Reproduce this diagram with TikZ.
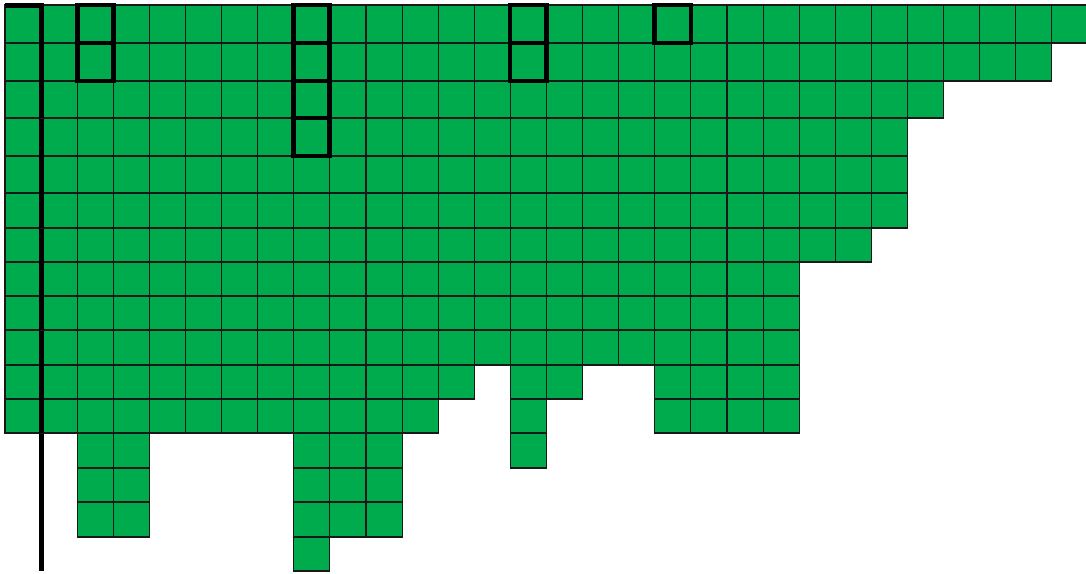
\documentclass[tikz,border=0pt]{standalone}
\definecolor{cellgreen}{RGB}{0,171,78}
\begin{document}
\begin{tikzpicture}[x=1pt,y=-1pt,
  cell/.style={fill=cellgreen, draw=black!90, line width=1.1pt},
  markline/.style={line width=4.8pt, draw=black}]
\useasboundingbox (0,0) rectangle (1086,573);
\def\cw{36.1}
\foreach \ya/\yb/\cols in {
  5/43/{0,...,29},
  43/81/{0,...,28},
  81/118/{0,...,25},
  118/156/{0,...,24},
  156/193/{0,...,24},
  193/228/{0,...,24},
  228/262/{0,...,23},
  262/296/{0,...,21},
  296/330/{0,...,21},
  330/365/{0,...,21},
  365/399/{0,1,2,3,4,5,6,7,8,9,10,11,12,14,15,18,19,20,21},
  399/433/{0,1,2,3,4,5,6,7,8,9,10,11,14,18,19,20,21},
  433/468/{2,3,8,9,10,14},
  468/502/{2,3,8,9,10},
  502/537/{2,3,8,9,10},
  537/571/{8}}
{
  \foreach \c in \cols {
    \draw[cell] ({5+\cw*\c},\ya) rectangle ({min(5+\cw*(\c+1),1086.5)},\yb);
  }
}
% left marker line
\draw[markline] (5,5.5) -- (43.5,5.5);
\draw[markline] (41.1,3.2) -- (41.1,117.5);
\draw[markline] (41.1,119) -- (41.1,227.5);
\draw[markline] (41.1,229) -- (41.1,329.5);
\draw[markline] (41.1,331) -- (41.1,432.5);
\draw[markline] (41.1,434) -- (41.1,571);
% boxes
\draw[markline] (77.2,5) rectangle (113.3,81);
\draw[markline] (77.2,43) -- (113.3,43);
\draw[markline] (293.6,5) rectangle (329.7,156);
\draw[markline] (293.6,43) -- (329.7,43);
\draw[markline] (293.6,81) -- (329.7,81);
\draw[markline] (293.6,118) -- (329.7,118);
\draw[markline] (510.0,5) rectangle (546.1,81);
\draw[markline] (510.0,43) -- (546.1,43);
\draw[markline] (654.8,5) rectangle (690.9,43);
\end{tikzpicture}
\end{document}
